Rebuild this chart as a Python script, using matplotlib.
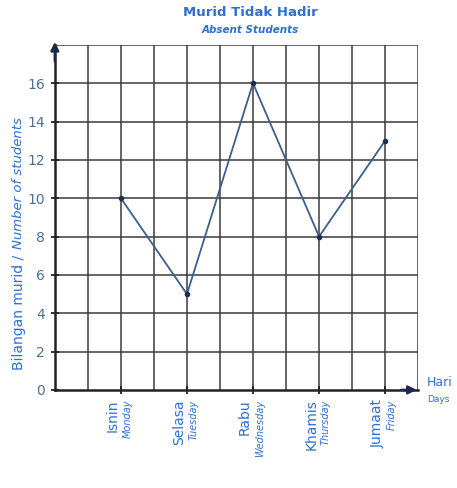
import matplotlib
matplotlib.use("Agg")
import matplotlib.pyplot as plt
import numpy as np

days_ms = ["Isnin", "Selasa", "Rabu", "Khamis", "Jumaat"]
days_en = ["Monday", "Tuesday", "Wednesday", "Thursday", "Friday"]
absent = [10, 5, 16, 8, 13]
y_ticks = [0, 2, 4, 6, 8, 10, 12, 14, 16]

blue = "#2f6fd0"
label_col = "#50708f"

fig = plt.figure(figsize=(4.57, 4.88), dpi=100)
ax = fig.add_axes([0.120, 0.201, 0.795, 0.707])

x = np.arange(1, len(absent) + 1)
ax.set_xlim(0, 5.5)
ax.set_ylim(0, 18)

# grid
for gx in np.arange(0.5, 5.51, 0.5):
    ax.axvline(gx, color="#3a3a3a", lw=1.1, zorder=1)
for gy in np.arange(2, 18.1, 2):
    ax.axhline(gy, color="#3a3a3a", lw=1.1, zorder=1)

ax.plot(x, absent, color="#3d5f8c", lw=1.3, zorder=3)
ax.plot(x, absent, "o", color="#1f2f4f", ms=3, zorder=4)

for s in ["top", "right"]:
    ax.spines[s].set_visible(False)
for s in ["left", "bottom"]:
    ax.spines[s].set_linewidth(1.8)
    ax.spines[s].set_color("#222222")

# arrows
ax.annotate("", xy=(5.52, 0), xytext=(5.2, 0), xycoords="data",
            arrowprops=dict(arrowstyle="-|>", color="#1a2a4a", lw=1.8, mutation_scale=12),
            annotation_clip=False, zorder=5)
ax.annotate("", xy=(0, 18.3), xytext=(0, 17.0),
            arrowprops=dict(arrowstyle="-|>", color="#1a2a4a", lw=1.8, mutation_scale=12),
            annotation_clip=False, zorder=5)

ax.set_yticks(y_ticks)
ax.set_yticklabels([str(v) for v in y_ticks], color=label_col, fontsize=10)
ax.tick_params(axis="y", direction="inout", length=6, width=1.3, color="#222222", pad=4)
ax.set_xticks(x)
ax.set_xticklabels([])
ax.tick_params(axis="x", direction="inout", length=6, width=1.3, color="#222222")

# x tick labels (two-part, rotated)
for xi, ms_, en in zip(x, days_ms, days_en):
    ax.text(xi - 0.12, -0.5, ms_, rotation=90, ha="center", va="top",
            color=blue, fontsize=10, transform=ax.transData, clip_on=False)
    ax.text(xi + 0.1, -0.5, en, rotation=90, ha="center", va="top",
            color=blue, fontsize=7, style="italic", transform=ax.transData, clip_on=False)

# x axis label
fig.text(427 / 457, 1 - 383 / 488, "Hari", color=blue, fontsize=9, ha="left", va="center")
fig.text(427 / 457, 1 - 399 / 488, "Days", color=blue, fontsize=6.5, ha="left", va="center")

# y axis label
fig.text(19 / 457, 1 - 251 / 488, "Bilangan murid / ", rotation=90, color=blue,
         fontsize=10, ha="center", va="top")
fig.text(19 / 457, 1 - 249 / 488, "Number of students", rotation=90, color=blue,
         fontsize=9.5, style="italic", ha="center", va="bottom")

# titles
fig.text(250 / 457, 1 - 13 / 488, "Murid Tidak Hadir", color=blue, fontsize=9.5,
         fontweight="bold", ha="center", va="center")
fig.text(250 / 457, 1 - 30 / 488, "Absent Students", color=blue, fontsize=7.5,
         fontweight="bold", style="italic", ha="center", va="center")

fig.savefig("out.png", dpi=100, facecolor="white")
